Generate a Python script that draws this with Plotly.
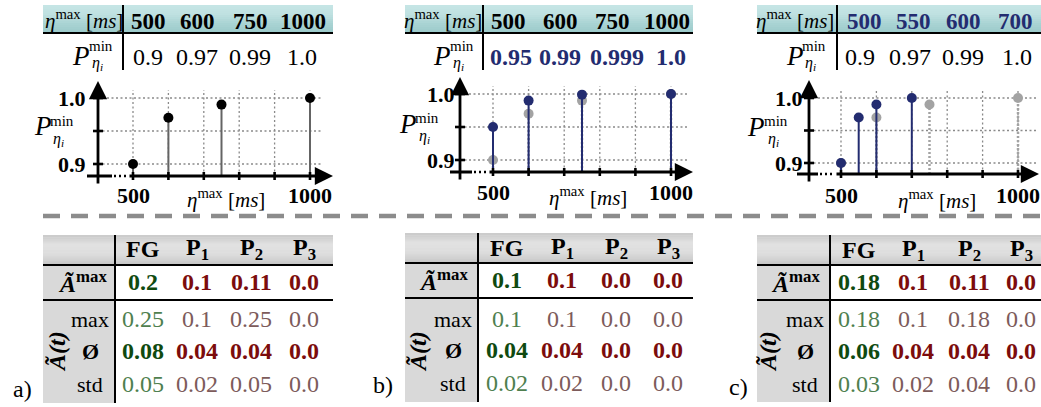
import plotly.graph_objects as go

# ---------------- data ----------------
eta_a = [500, 600, 750, 1000]
pmin_a = [0.9, 0.97, 0.99, 1.0]
eta_b = [500, 600, 750, 1000]
pmin_b = [0.95, 0.99, 0.999, 1.0]
eta_c = [500, 550, 600, 700]
pmin_c = [0.9, 0.97, 0.99, 1.0]

columns = ["FG", "P<sub>1</sub>", "P<sub>2</sub>", "P<sub>3</sub>"]
amax_a = [0.2, 0.1, 0.11, 0.0]
max_a = [0.25, 0.1, 0.25, 0.0]
avg_a = [0.08, 0.04, 0.04, 0.0]
std_a = [0.05, 0.02, 0.05, 0.0]
amax_b = [0.1, 0.1, 0.0, 0.0]
max_b = [0.1, 0.1, 0.0, 0.0]
avg_b = [0.04, 0.04, 0.0, 0.0]
std_b = [0.02, 0.02, 0.0, 0.0]
amax_c = [0.18, 0.1, 0.11, 0.0]
max_c = [0.18, 0.1, 0.18, 0.0]
avg_c = [0.06, 0.04, 0.04, 0.0]
std_c = [0.03, 0.02, 0.04, 0.0]

x_tick_labels = [500, 1000]
y_tick_labels = [0.9, 1.0]
x_grid = [500, 600, 700, 800, 900, 1000]
y_grid = [0.9, 0.95, 1.0]
panel_labels = ["a)", "b)", "c)"]

# ---------------- styling / layout helpers ----------------
W, H = 1041, 407
FONT = "Liberation Serif"
NAVY = "#232c70"
GRAYM = "#a3a3a3"
GREEN_B = "#0f4a10"
RED_B = "#7c0c0c"
GREEN_L = "#4f7f4f"
RED_L = "#7d5b5b"


def X(p):
    return p / W


def Y(p):
    return 1 - p / H


shapes = []
anns = []


def text(t, x, y, size=22, color="black", xanchor="center", yanchor="middle",
         angle=0, xref="paper", yref="paper"):
    anns.append(dict(
        text=t, x=X(x) if xref == "paper" else x, y=Y(y) if yref == "paper" else y,
        xref=xref, yref=yref, showarrow=False, xanchor=xanchor, yanchor=yanchor,
        textangle=angle, font=dict(family=FONT, size=size, color=color)))


def rect(x0, y0, x1, y1, color):
    shapes.append(dict(type="rect", xref="paper", yref="paper", x0=X(x0), x1=X(x1),
                       y0=Y(y1), y1=Y(y0), fillcolor=color, line=dict(width=0)))


def pline(x0, y0, x1, y1, color="black", width=2, dash="solid"):
    shapes.append(dict(type="line", xref="paper", yref="paper", x0=X(x0), x1=X(x1),
                       y0=Y(y0), y1=Y(y1), line=dict(color=color, width=width, dash=dash)))


def lerp(c1, c2, t):
    a = [int(c1[i:i + 2], 16) for i in (1, 3, 5)]
    b = [int(c2[i:i + 2], 16) for i in (1, 3, 5)]
    return "#%02x%02x%02x" % tuple(round(a[k] + (b[k] - a[k]) * t) for k in range(3))


def grad(x0, y0, x1, y1, stops, n=14):
    h = (y1 - y0) / n
    for i in range(n):
        t = (i + 0.5) / n
        seg = t * (len(stops) - 1)
        k = min(int(seg), len(stops) - 2)
        rect(x0, y0 + i * h, x1, y0 + (i + 1) * h + 0.6, lerp(stops[k], stops[k + 1], seg - k))


def fmt(v):
    return str(v)


TEAL = ["#c6e5e5", "#bfe1e1", "#a9d3d3", "#9bcaca"]
GREYH = ["#c9c9c9", "#e2e2e2", "#dcdcdc", "#c6c6c6"]

# ---------------- top tables ----------------
top_tables = [
    dict(eta=eta_a, p=pmin_a, x0=43, x1=333, vline=123, hdr=[148, 197, 250, 303],
         row=[148, 197, 250, 302], hlab=84, P=(81, 56), mn=(101, 46), et=(90, 64),
         hcol="black", hbold=True, rcol="black", rbold=False),
    dict(eta=eta_b, p=pmin_b, x0=405, x1=693, vline=483, hdr=[508, 560, 612, 667],
         row=[511, 560, 617, 671], hlab=443, P=(442, 56), mn=(462, 46), et=(451, 63),
         hcol="black", hbold=True, rcol=NAVY, rbold=True),
    dict(eta=eta_c, p=pmin_c, x0=757, x1=1041, vline=837, hdr=[864, 913, 963, 1015],
         row=[860, 910, 963, 1017], hlab=795, P=(795, 56), mn=(814, 46), et=(803, 63),
         hcol=NAVY, hbold=True, rcol="black", rbold=False),
]

for tt in top_tables:
    grad(tt["x0"], 5, tt["x1"], 33, TEAL)
for tt in top_tables:
    pline(tt["x0"], 33, tt["x1"], 33, width=2.2)
    pline(tt["vline"], 5, tt["vline"], 70, width=2)
    text("<i>η</i><sup>max</sup> [<i>ms</i>]", tt["hlab"], 20, size=21)
    for i, v in enumerate(tt["eta"]):
        text("<b>%d</b>" % v, tt["hdr"][i], 21, size=23, color=tt["hcol"])
    for i, v in enumerate(tt["p"]):
        s = fmt(v)
        text("<b>%s</b>" % s if tt["rbold"] else s, tt["row"][i], 57, size=24, color=tt["rcol"])
    text("<i>P</i>", tt["P"][0], tt["P"][1], size=27)
    text("min", tt["mn"][0], tt["mn"][1], size=15)
    text("<i>η<sub>i</sub></i>", tt["et"][0], tt["et"][1], size=16, xanchor="left")

# ---------------- separator ----------------
pline(43, 216, 1041, 216, color="#8c8c8c", width=4.5, dash="17px,11px")

# ---------------- bottom tables ----------------
bottom_tables = [
    dict(rows=[amax_a, max_a, avg_a, std_a], x0=43, x1=333, vl=115, ht=235, l1=265, l2=300,
         bot=403, cols=[143, 197, 251, 304], ry=[282, 319, 351, 384], hy=249,
         lab=90, amx=82, at=57, pl=(22, 389)),
    dict(rows=[amax_b, max_b, avg_b, std_b], x0=405, x1=693, vl=478, ht=233, l1=263, l2=298,
         bot=402, cols=[507, 562, 616, 668], ry=[280, 319, 350, 383], hy=248,
         lab=453, amx=443, at=418, pl=(383, 385)),
    dict(rows=[amax_c, max_c, avg_c, std_c], x0=757, x1=1041, vl=830, ht=235, l1=265, l2=300,
         bot=402, cols=[859, 913, 969, 1021], ry=[282, 319, 351, 384], hy=250,
         lab=805, amx=795, at=768, pl=(738, 387)),
]

for k, bt in enumerate(bottom_tables):
    grad(bt["x0"], bt["ht"], bt["x1"], bt["l1"], GREYH)
    rect(bt["x0"], bt["l1"], bt["vl"], bt["bot"], "#d9d9d9")
for k, bt in enumerate(bottom_tables):
    pline(bt["x0"], bt["l1"], bt["x1"], bt["l1"], width=2.2)
    pline(bt["x0"], bt["l2"], bt["x1"], bt["l2"], width=2.2)
    pline(bt["vl"], bt["ht"], bt["vl"], bt["bot"], width=2)
    for i, c in enumerate(columns):
        text("<b>%s</b>" % c, bt["cols"][i], bt["hy"], size=24)
    for r, vals in enumerate(bt["rows"]):
        strong = r in (0, 2)
        for i, v in enumerate(vals):
            if strong:
                col = GREEN_B if i == 0 else RED_B
                t = "<b>%s</b>" % fmt(v)
            else:
                col = GREEN_L if i == 0 else RED_L
                t = fmt(v)
            text(t, bt["cols"][i], bt["ry"][r], size=24, color=col)
    text("<b><i>Ã</i></b><sup><b>max</b></sup>", bt["amx"], bt["ry"][0], size=24)
    text("max", bt["lab"], bt["ry"][1], size=22)
    text("<b>Ø</b>", bt["lab"], bt["ry"][2], size=22)
    text("std", bt["lab"], bt["ry"][3], size=22)
    text("<b><i>Ã(t)</i></b>", bt["at"], 352, size=24, angle=-90)
    text(panel_labels[k], bt["pl"][0], bt["pl"][1], size=24)

# ---------------- stem charts ----------------
charts = [
    dict(yax=98, x500=133, x1000=310, y10=98, y09=164, xax=176, left=87, brk0=112, brk1=128,
         tipx=333, tipy=81, bottom=185, gridend=321, gridtop=90, ylab_r=88, xlab_y=195,
         xl=(226, 198), P=(43, 126), mn=(62, 121), et=(51, 139),
         new=(eta_a, pmin_a), old=None, stem="#646464", mark="black"),
    dict(yax=460, x500=493, x1000=671, y10=94, y09=160, xax=172, left=450, brk0=472, brk1=488,
         tipx=693, tipy=77, bottom=181, gridend=688, gridtop=86, ylab_r=457, xlab_y=192,
         xl=(588, 196), P=(408, 124), mn=(427, 118), et=(417, 137),
         new=(eta_b, pmin_b), old=(eta_a, pmin_a), stem=NAVY, mark=NAVY),
    dict(yax=809, x500=841, x1000=1018, y10=98, y09=163, xax=174, left=797, brk0=818, brk1=835,
         tipx=1039, tipy=80, bottom=183, gridend=1036, gridtop=90, ylab_r=805, xlab_y=195,
         xl=(937, 199), P=(756, 127), mn=(776, 121), et=(766, 140),
         new=(eta_c, pmin_c), old=(eta_a, pmin_a), stem=NAVY, mark=NAVY),
]

fig = go.Figure()
layout_axes = {}


def stems(xs, ys, base):
    sx, sy = [], []
    for xv, yv in zip(xs, ys):
        sx += [xv, xv, None]
        sy += [base, yv, None]
    return sx, sy


for k, ch in enumerate(charts):
    n = "" if k == 0 else str(k + 1)
    xr, yr = "x" + n, "y" + n
    sx = (ch["x1000"] - ch["x500"]) / 500.0        # px per ms
    sy = (ch["y09"] - ch["y10"]) / 0.1              # px per unit
    d0, d1 = ch["left"] - 1, min(ch["tipx"] + 2, W)
    t0, b0 = ch["tipy"] - 2, ch["bottom"] + 2
    xrange_ = [500 - (ch["x500"] - d0) / sx, 500 + (d1 - ch["x500"]) / sx]
    yrange_ = [0.9 - (b0 - ch["y09"]) / sy, 1.0 + (ch["y10"] - t0) / sy]
    layout_axes["xaxis" + n] = dict(domain=[X(d0), X(d1)], range=xrange_, visible=False,
                                    anchor=yr, fixedrange=True)
    layout_axes["yaxis" + n] = dict(domain=[Y(b0), Y(t0)], range=yrange_, visible=False,
                                    anchor=xr, fixedrange=True)

    def xv(px):
        return 500 + (px - ch["x500"]) / sx

    def yv(py):
        return 0.9 - (py - ch["y09"]) / sy

    base = yv(ch["xax"])
    yaxis_x = xv(ch["yax"])

    # grid
    for g in y_grid:
        shapes.append(dict(type="line", xref=xr, yref=yr, x0=yaxis_x, x1=xv(ch["gridend"]),
                           y0=g, y1=g, layer="below",
                           line=dict(color="#8a8a8a", width=1.3, dash="2px,2.5px")))
    for g in x_grid:
        shapes.append(dict(type="line", xref=xr, yref=yr, x0=g, x1=g, y0=base,
                           y1=yv(ch["gridtop"]), layer="below",
                           line=dict(color="#8a8a8a", width=1.3, dash="2px,2.5px")))
    # axes
    shapes.append(dict(type="line", xref=xr, yref=yr, x0=xv(ch["left"]), x1=xv(ch["brk0"]),
                       y0=base, y1=base, line=dict(color="black", width=3)))
    shapes.append(dict(type="line", xref=xr, yref=yr, x0=xv(ch["brk0"] + 2), x1=xv(ch["brk1"]),
                       y0=base, y1=base, line=dict(color="black", width=2.5, dash="2px,3px")))
    anns.append(dict(x=xv(ch["tipx"]), y=base, ax=xv(ch["brk1"]), ay=base, xref=xr, yref=yr,
                     axref=xr, ayref=yr, text="", showarrow=True, arrowhead=2, arrowsize=1.3,
                     arrowwidth=2.8, arrowcolor="black", standoff=0))
    anns.append(dict(x=yaxis_x, y=yv(ch["tipy"]), ax=yaxis_x, ay=yv(ch["bottom"]), xref=xr,
                     yref=yr, axref=xr, ayref=yr, text="", showarrow=True, arrowhead=2,
                     arrowsize=1.3, arrowwidth=2.8, arrowcolor="black", standoff=0))
    # tick marks
    for g in x_grid:
        shapes.append(dict(type="line", xref=xr, yref=yr, x0=g, x1=g, ysizemode="pixel",
                           yanchor=base, y0=-4, y1=4, line=dict(color="black", width=2.6)))
    for g in y_grid:
        shapes.append(dict(type="line", xref=xr, yref=yr, y0=g, y1=g, xsizemode="pixel",
                           xanchor=yaxis_x, x0=-5, x1=5, line=dict(color="black", width=2.6)))
    # tick labels
    for tv in y_tick_labels:
        anns.append(dict(text="<b>%.1f</b>" % tv, x=X(ch["ylab_r"]), y=tv, xref="paper", yref=yr,
                         xanchor="right", yanchor="middle", showarrow=False,
                         font=dict(family=FONT, size=22, color="black")))
    for tv in x_tick_labels:
        anns.append(dict(text="<b>%d</b>" % tv, x=tv, y=Y(ch["xlab_y"]), xref=xr, yref="paper",
                         xanchor="center", yanchor="middle", showarrow=False,
                         font=dict(family=FONT, size=22, color="black")))
    # axis titles
    text("<i>η</i><sup>max</sup> [<i>ms</i>]", ch["xl"][0], ch["xl"][1], size=21)
    text("<i>P</i>", ch["P"][0], ch["P"][1], size=27)
    text("min", ch["mn"][0], ch["mn"][1], size=15)
    text("<i>η<sub>i</sub></i>", ch["et"][0], ch["et"][1], size=16, xanchor="left")

    # data marks
    if ch["old"] is not None:
        ox, oy = ch["old"]
        ssx, ssy = stems(ox, oy, base)
        fig.add_trace(go.Scatter(x=ssx, y=ssy, mode="lines", xaxis=xr, yaxis=yr,
                                 line=dict(color=GRAYM, width=2.5, dash="2px,2px"),
                                 hoverinfo="skip", cliponaxis=False))
        fig.add_trace(go.Scatter(x=ox, y=oy, mode="markers", xaxis=xr, yaxis=yr,
                                 marker=dict(color=GRAYM, size=10), cliponaxis=False))
    nx, ny = ch["new"]
    ssx, ssy = stems(nx, ny, base)
    fig.add_trace(go.Scatter(x=ssx, y=ssy, mode="lines", xaxis=xr, yaxis=yr,
                             line=dict(color=ch["stem"], width=2), hoverinfo="skip",
                             cliponaxis=False))
    fig.add_trace(go.Scatter(x=nx, y=ny, mode="markers", xaxis=xr, yaxis=yr,
                             marker=dict(color=ch["mark"], size=10), cliponaxis=False))

fig.update_layout(
    width=W, height=H, margin=dict(l=0, r=0, t=0, b=0),
    paper_bgcolor="white", plot_bgcolor="rgba(0,0,0,0)", showlegend=False,
    shapes=shapes, annotations=anns, font=dict(family=FONT), **layout_axes)

fig.write_html("out.html", config={"displayModeBar": False},
               post_script="document.body.style.margin='0';document.body.style.overflow='hidden';")
